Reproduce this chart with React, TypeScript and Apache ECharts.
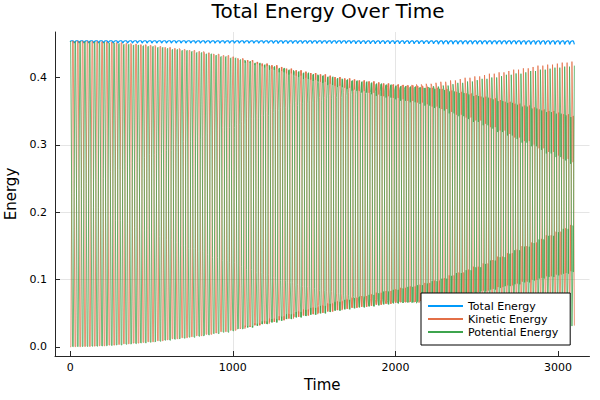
import React, { useEffect, useRef } from "react";
import * as echarts from "echarts";

// ---------- text ----------
const TITLE = "Total Energy Over Time";
const X_NAME = "Time";
const Y_NAME = "Energy";
const SERIES_NAMES = ["Total Energy", "Kinetic Energy", "Potential Energy"];
const SERIES_COLORS = ["#009AFA", "#E36F47", "#3EA44E"];
const X_TICKS = [0, 1000, 2000, 3000];
const Y_TICKS = [0, 0.1, 0.2, 0.3, 0.4];

// ---------- readings of the kinetic-energy levels, every 50 time units (t = 0 .. 3100) ----------
const KNOT_STEP = 50;
// level A: lowest sample of each swing (bottom of the lower band)
const KE_A = [0.0, 0.0002, 0.0005, 0.001, 0.0015, 0.0025, 0.0035, 0.0045, 0.0055, 0.0065, 0.0075, 0.009, 0.0105, 0.012, 0.0135, 0.015, 0.0165, 0.0185, 0.0205, 0.0225, 0.0245, 0.027, 0.0295, 0.032, 0.0345, 0.037, 0.0395, 0.042, 0.0445, 0.0465, 0.0485, 0.0505, 0.0525, 0.0545, 0.0565, 0.058, 0.0595, 0.061, 0.0625, 0.064, 0.0655, 0.0662, 0.0669, 0.068, 0.069, 0.0705, 0.0721, 0.0743, 0.0765, 0.0788, 0.0811, 0.0835, 0.086, 0.0886, 0.0912, 0.094, 0.0967, 0.0996, 0.1025, 0.1048, 0.1072, 0.1097, 0.1122];
// level B: rising mid sample (becomes the tip after t≈2100)
const KE_B = [0.2278, 0.2355, 0.2429, 0.2485, 0.2538, 0.2607, 0.2675, 0.2725, 0.2775, 0.2816, 0.2857, 0.2909, 0.2961, 0.3006, 0.305, 0.309, 0.3129, 0.3176, 0.3222, 0.3264, 0.3305, 0.3353, 0.34, 0.3443, 0.3485, 0.3524, 0.3562, 0.3597, 0.3632, 0.3658, 0.3684, 0.3709, 0.3734, 0.3758, 0.3782, 0.3799, 0.3816, 0.3833, 0.3849, 0.386, 0.387, 0.388, 0.389, 0.39, 0.391, 0.3925, 0.394, 0.396, 0.398, 0.4, 0.402, 0.404, 0.406, 0.408, 0.41, 0.412, 0.414, 0.416, 0.418, 0.4195, 0.421, 0.4225, 0.424];
// level C: top sample before t≈2100, then top of the upper band
const KE_C = [0.4545, 0.4544, 0.4542, 0.4539, 0.4535, 0.4528, 0.452, 0.451, 0.45, 0.449, 0.448, 0.4465, 0.445, 0.4435, 0.442, 0.4405, 0.439, 0.437, 0.435, 0.433, 0.431, 0.4285, 0.426, 0.4235, 0.421, 0.4185, 0.416, 0.4135, 0.411, 0.409, 0.407, 0.405, 0.403, 0.401, 0.399, 0.3975, 0.396, 0.3945, 0.393, 0.3915, 0.39, 0.3893, 0.3886, 0.3876, 0.3865, 0.385, 0.3834, 0.3812, 0.379, 0.3767, 0.3744, 0.372, 0.3695, 0.3669, 0.3643, 0.3616, 0.3588, 0.3559, 0.353, 0.3507, 0.3483, 0.3458, 0.3433];
// level D: falling mid sample (becomes the bottom after t≈2100)
const KE_D = [0.2278, 0.22, 0.2126, 0.207, 0.2017, 0.1948, 0.188, 0.183, 0.178, 0.1739, 0.1698, 0.1646, 0.1594, 0.155, 0.1505, 0.1466, 0.1426, 0.138, 0.1333, 0.1292, 0.125, 0.1203, 0.1155, 0.1113, 0.107, 0.1032, 0.0993, 0.0958, 0.0923, 0.0897, 0.0871, 0.0847, 0.0822, 0.0798, 0.0773, 0.0756, 0.0739, 0.0723, 0.0706, 0.0696, 0.0685, 0.0675, 0.0665, 0.0655, 0.0645, 0.063, 0.0615, 0.0595, 0.0575, 0.0555, 0.0535, 0.0515, 0.0495, 0.0475, 0.0455, 0.0435, 0.0415, 0.0395, 0.0375, 0.036, 0.0345, 0.033, 0.0315];
// thickness of the dense bands
const BAND_W = [0, 0, 0, 0, 0, 0, 0, 0, 0, 0, 0, 0, 0, 0, 0, 0, 0, 0, 0, 0, 0, 0.001, 0.002, 0.003, 0.004, 0.005, 0.006, 0.007, 0.008, 0.009, 0.01, 0.011, 0.012, 0.013, 0.014, 0.015, 0.016, 0.017, 0.018, 0.019, 0.02, 0.0215, 0.023, 0.0245, 0.026, 0.028, 0.03, 0.032, 0.034, 0.036, 0.038, 0.0405, 0.043, 0.0455, 0.048, 0.0505, 0.053, 0.0555, 0.058, 0.061, 0.064, 0.0665, 0.069];

// ---------- readings of the total energy ripple, every 500 time units ----------
const TOTAL_KNOT_STEP = 500;
const TOTAL_PEAK = [0.455, 0.455, 0.4549, 0.4549, 0.4548, 0.4548, 0.4548];
const TOTAL_DIP = [0.4518, 0.4515, 0.4512, 0.4508, 0.4504, 0.4499, 0.4495];

// ---------- sampling of one visible swing ----------
const CYCLE_LENGTH = 29.858;
const T_END = 3100;
const SLOT_PHASE = [0, 0.05, 0.1, 0.15, 0.325, 0.5, 0.55, 0.6, 0.65, 0.825];
const SLOT_LEVEL = ["a", "aw", "a", "aw", "b", "c", "cw", "c", "cw", "d"];
const SLOT_RIPPLE = [0.55, 0.7, 0.8, 0.88, 1.0, 1.0, 0.97, 0.93, 0.88, 0.0];

function buildSeries() {
  const total: number[][] = [];
  const kinetic: number[][] = [];
  const potential: number[][] = [];
  let done = false;
  for (let k = 0; !done; k++) {
    for (let s = 0; s < SLOT_PHASE.length; s++) {
      const t = (k + SLOT_PHASE[s]) * CYCLE_LENGTH;
      if (t > T_END + 0.5) {
        done = true;
        break;
      }
      const i = Math.min(KE_A.length - 1, Math.round(t / KNOT_STEP));
      const j = Math.min(TOTAL_PEAK.length - 1, Math.round(t / TOTAL_KNOT_STEP));
      const a = KE_A[i];
      const b = KE_B[i];
      const c = KE_C[i];
      const d = KE_D[i];
      const w = BAND_W[i];
      let ke = a;
      switch (SLOT_LEVEL[s]) {
        case "a": ke = a; break;
        case "aw": ke = a + w; break;
        case "b": ke = b; break;
        case "c": ke = c; break;
        case "cw": ke = c - w; break;
        case "d": ke = d; break;
      }
      const tot = TOTAL_DIP[j] + SLOT_RIPPLE[s] * (TOTAL_PEAK[j] - TOTAL_DIP[j]);
      const tr = Math.round(t * 100) / 100;
      total.push([tr, tot]);
      kinetic.push([tr, ke]);
      potential.push([tr, tot - ke]);
    }
  }
  return [total, kinetic, potential];
}

const FONT = "DejaVu Sans";
const AXIS_COLOR = "#262626";

export default function App() {
  const ref = useRef<HTMLDivElement>(null);
  useEffect(() => {
    if (!ref.current) return;
    const chart = echarts.init(ref.current, undefined, { renderer: "svg" });
    const data = buildSeries();
    const option: any = {
      animation: false,
      backgroundColor: "#ffffff",
      textStyle: { fontFamily: FONT },
      title: {
        text: TITLE,
        left: 323,
        top: -4,
        textAlign: "center",
        textStyle: { fontSize: 20, fontWeight: "normal", color: "#000", fontFamily: FONT },
      },
      grid: { left: 55, right: 10.5, top: 32, bottom: 44, containLabel: false, outerBoundsMode: "none" },
      legend: {
        orient: "vertical",
        left: 421,
        top: 293,
        data: SERIES_NAMES,
        icon: "rect",
        itemWidth: 35,
        itemHeight: 2,
        itemGap: 0,
        padding: [6.5, 12, 6.5, 7],
        borderColor: "#000",
        borderWidth: 1,
        backgroundColor: "#fff",
        selectedMode: false,
        textStyle: { fontSize: 11, color: "#000", fontFamily: FONT, lineHeight: 13 },
      },
      xAxis: {
        type: "value",
        min: -93,
        max: 3193,
        splitNumber: 3,
        name: X_NAME,
        nameLocation: "middle",
        nameGap: 21,
        nameTextStyle: { fontSize: 15, color: "#000", fontFamily: FONT },
        axisLine: { show: true, onZero: false, lineStyle: { color: AXIS_COLOR, width: 1 } },
        axisTick: { show: true, inside: true, length: 5, customValues: X_TICKS, lineStyle: { color: AXIS_COLOR } },
        axisLabel: {
          customValues: X_TICKS,
          fontSize: 11,
          color: "#000",
          fontFamily: FONT,
          margin: 6,
          formatter: (v: number) => String(v),
        },
        splitLine: { show: true, showMinLine: false, showMaxLine: false, lineStyle: { color: "rgba(0,0,0,0.1)", width: 1 } },
      },
      yAxis: {
        type: "value",
        min: -0.0137,
        max: 0.468,
        splitNumber: 5,
        name: Y_NAME,
        nameLocation: "middle",
        nameGap: 32,
        nameTextStyle: { fontSize: 15, color: "#000", fontFamily: FONT },
        axisLine: { show: true, onZero: false, lineStyle: { color: AXIS_COLOR, width: 1 } },
        axisTick: { show: true, inside: true, length: 5, customValues: Y_TICKS, lineStyle: { color: AXIS_COLOR } },
        axisLabel: {
          customValues: Y_TICKS,
          fontSize: 11,
          color: "#000",
          fontFamily: FONT,
          margin: 8,
          formatter: (v: number) => v.toFixed(1),
        },
        splitLine: { show: true, showMinLine: false, showMaxLine: false, lineStyle: { color: "rgba(0,0,0,0.1)", width: 1 } },
      },
      series: SERIES_NAMES.map((name, idx) => ({
        type: "line",
        name,
        data: data[idx],
        showSymbol: false,
        symbol: "none",
        clip: true,
        silent: true,
        lineStyle: { width: idx === 0 ? 1.2 : 0.75, color: SERIES_COLORS[idx] },
        itemStyle: { color: SERIES_COLORS[idx] },
        emphasis: { disabled: true },
      })),
    };
    chart.setOption(option);
    return () => chart.dispose();
  }, []);
  return <div ref={ref} style={{ width: 600, height: 400, position: "absolute", left: 0, top: 0 }} />;
}
